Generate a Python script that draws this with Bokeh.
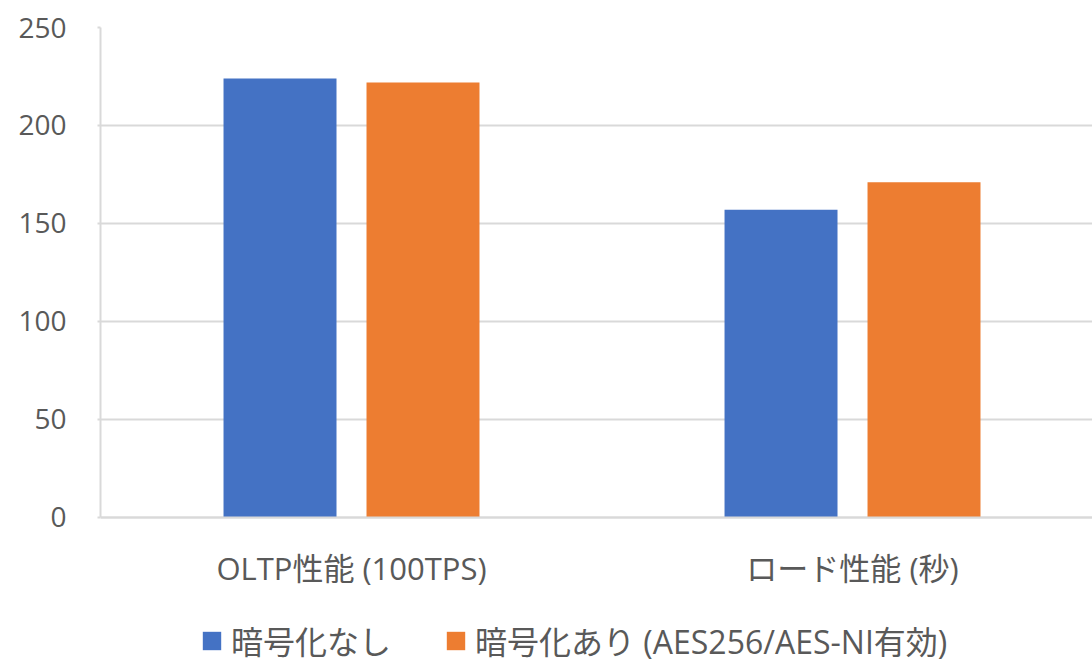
from bokeh.plotting import figure
from bokeh.models import ColumnDataSource, Range1d, FixedTicker, Legend, LegendItem
from bokeh.transform import dodge
from bokeh.embed import file_html
from bokeh.resources import INLINE

categories = ["OLTP性能 (100TPS)", "ロード性能 (秒)"]
series_names = ["暗号化なし", "暗号化あり (AES256/AES-NI有効)"]
no_enc = [224, 157]
enc = [222, 171]
y_ticks = [0, 50, 100, 150, 200, 250]

FONT = "'Open Sans', 'Noto Sans CJK JP'"
TXT = "#595959"
GRID = "#d9d9d9"

xpos = [i + 0.5 for i in range(len(categories))]
src = ColumnDataSource(dict(x=xpos, a=no_enc, b=enc))

p = figure(width=1092, height=659, output_backend="svg", toolbar_location=None,
           x_range=Range1d(-0.001, 1.979), y_range=Range1d(-72.45, 250),
           min_border_left=100, min_border_right=0, min_border_top=27, min_border_bottom=0)
p.outline_line_color = None

r1 = p.vbar(x=dodge("x", -0.1427, range=p.x_range), top="a", width=0.2255, source=src,
            fill_color="#4472C4", line_color=None)
r2 = p.vbar(x=dodge("x", 0.1427, range=p.x_range), top="b", width=0.2255, source=src,
            fill_color="#ED7D31", line_color=None)

p.xgrid.visible = False
p.ygrid.grid_line_color = GRID
p.ygrid.grid_line_width = 2
p.yaxis.ticker = FixedTicker(ticks=y_ticks)
p.yaxis.bounds = (0, 250)
p.xaxis.ticker = FixedTicker(ticks=xpos)
p.xaxis.major_label_overrides = {x: c for x, c in zip(xpos, categories)}
p.xaxis.fixed_location = 0

for ax in (p.xaxis[0], p.yaxis[0]):
    ax.axis_line_color = GRID
    ax.axis_line_width = 2
    ax.minor_tick_line_color = None
    ax.major_label_text_font = FONT
    ax.major_label_text_color = TXT

p.xaxis.major_label_text_font_size = "31px"
p.yaxis.major_label_text_font_size = "28px"
p.xaxis.major_tick_line_color = None
p.xaxis.major_label_standoff = 24
p.yaxis.major_tick_line_color = GRID
p.yaxis.major_tick_line_width = 2
p.yaxis.major_tick_out = 3
p.yaxis.major_tick_in = 0
p.yaxis.major_label_standoff = 31

legend = Legend(items=[LegendItem(label=series_names[0], renderers=[r1]),
                       LegendItem(label=series_names[1], renderers=[r2])],
                orientation="horizontal", location=(100, -4),
                border_line_color=None, background_fill_alpha=0,
                label_text_font=FONT, label_text_color=TXT, label_text_font_size="32px",
                glyph_width=23, glyph_height=23, label_standoff=8, spacing=53,
                padding=0, margin=0)
p.add_layout(legend, "center")

open("out.html", "w").write(file_html(p, INLINE))
